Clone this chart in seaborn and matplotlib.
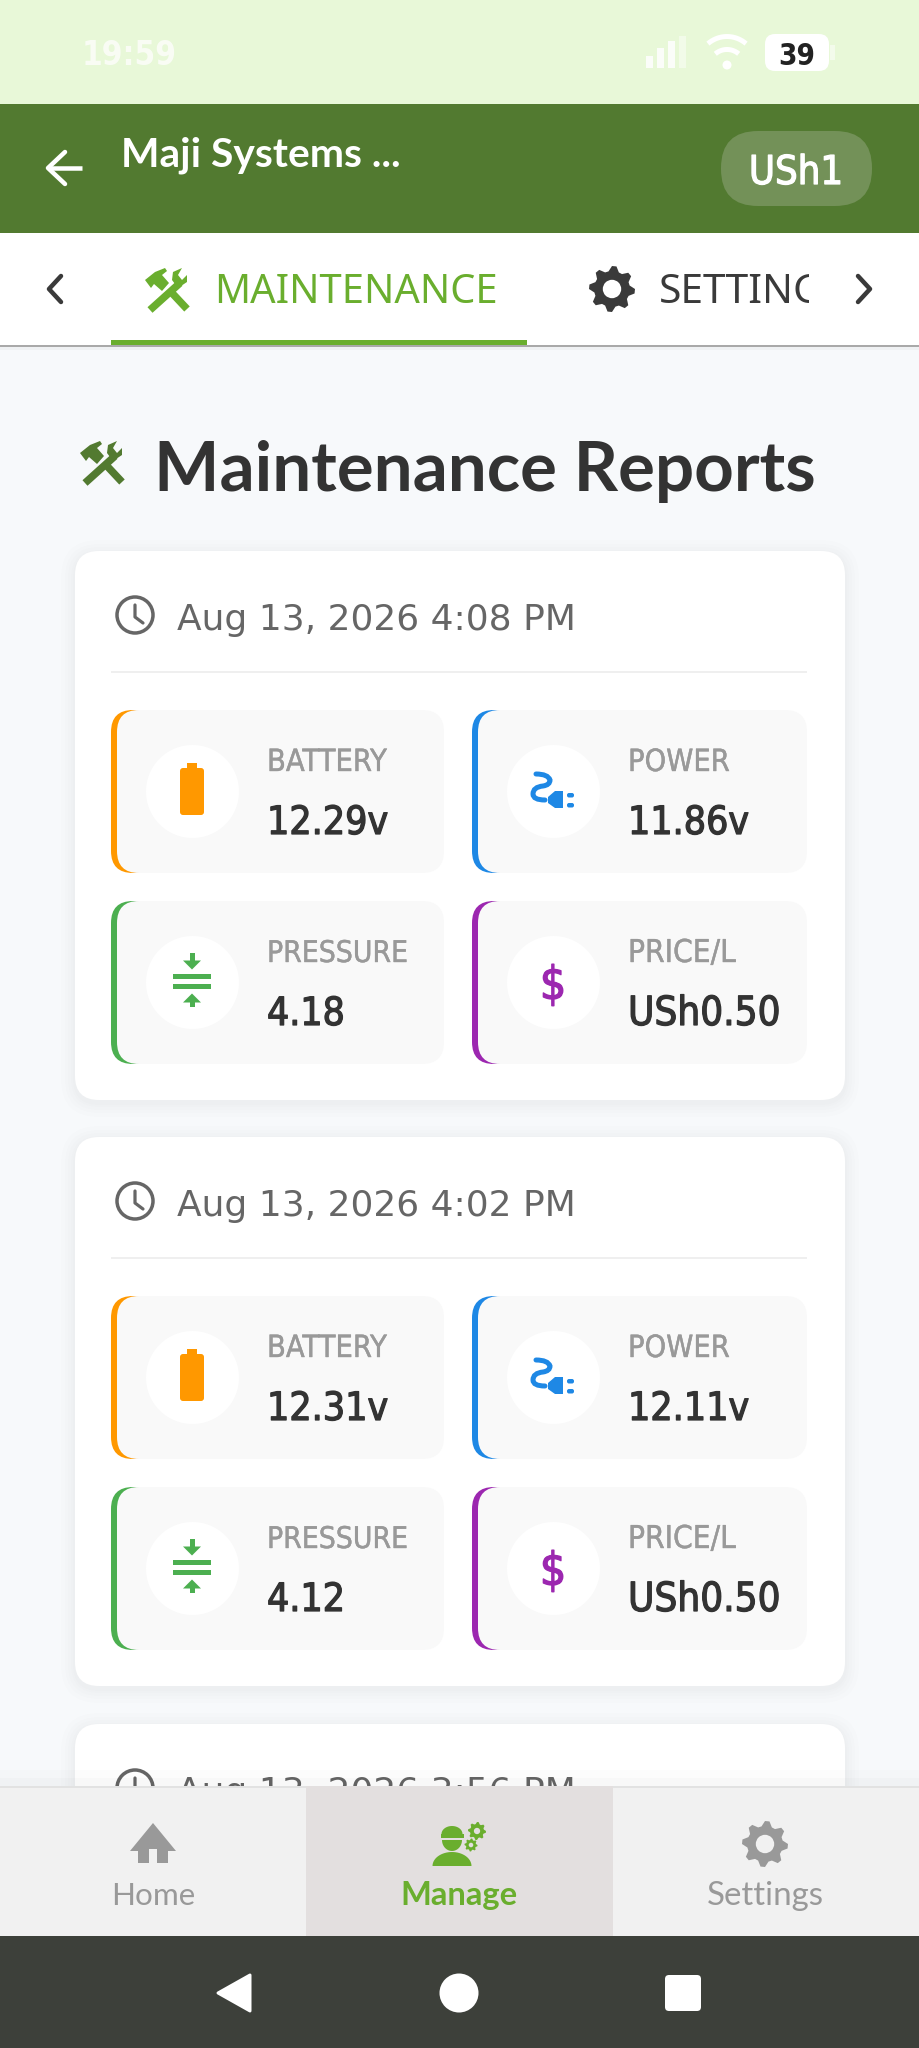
import itertools
import numpy as np
import pandas as pd
import matplotlib
matplotlib.use('Agg')
import matplotlib.pyplot as plt
import matplotlib.patheffects as pe
import seaborn as sns
from matplotlib.patches import Circle, FancyBboxPatch, PathPatch, Polygon, Rectangle
from matplotlib.path import Path

# report values
report_dates = ['Aug 13, 2026 4:08 PM', 'Aug 13, 2026 4:02 PM', 'Aug 13, 2026 3:56 PM']
tile_names = ['BATTERY', 'POWER', 'PRESSURE', 'PRICE/L']
battery_values = ['12.29v', '12.31v']
power_values = ['11.86v', '12.11v']
pressure_values = ['4.18', '4.12']
price_values = ['USh0.50', 'USh0.50']
tile_colors = sns.color_palette(['#FF9800', '#1E88E5', '#4CAF50', '#9C27B0'])
nav_labels = ['Home', 'Manage', 'Settings']

sns.set_theme(style='white')
plt.rcParams['font.family'] = ['DejaVu Sans']

W, H = 919, 2048
fig = plt.figure(figsize=(W / 100, H / 100), dpi=100, facecolor='#F7F9FB')
ax = fig.add_axes([0, 0, 1, 1])
ax.set_axis_off()
renderer = fig.canvas.get_renderer()
order = itertools.count(1)


def px(v):
    return v * 0.72


def rect(x0, y0, x1, y1, color, alpha=1):
    ax.add_patch(Rectangle((x0, y0), x1 - x0, y1 - y0, fc=color, lw=0, alpha=alpha, zorder=next(order)))


def rrect(x0, y0, x1, y1, r, color, alpha=1):
    ax.add_patch(FancyBboxPatch((x0 + r, y0 + r), x1 - x0 - 2 * r, y1 - y0 - 2 * r,
                                boxstyle=f'round,pad={r},rounding_size={r}',
                                fc=color, lw=0, alpha=alpha, zorder=next(order)))


def poly(points, color):
    ax.add_patch(Polygon(points, closed=True, fc=color, lw=0, zorder=next(order)))


def circle(x, y, r, color, lw=0, fill=True):
    ax.add_patch(Circle((x, y), r, fc=color if fill else 'none', ec=color, lw=px(lw), zorder=next(order)))


def half(x, y, rx, ry, color, up=True):
    a = np.linspace(0, np.pi, 30)
    poly(np.c_[x + rx * np.cos(a), y + (-1 if up else 1) * ry * np.sin(a)], color)


def stroke(xs, ys, color, w, cap='round', join='round'):
    ax.plot(xs, ys, color=color, lw=px(w), solid_capstyle=cap, solid_joinstyle=join, zorder=next(order))


def label(x, base, s, width, color, weight='normal', family='DejaVu Sans', size=20, ha='left', alpha=1, heavy=0,
          stretch='normal'):
    # fontsize is scaled until the text has the measured width
    t = ax.text(x, base, s, color=color, fontweight=weight, family=family, fontsize=size, ha=ha,
                va='baseline', alpha=alpha, fontstretch=stretch, zorder=next(order))
    if width:
        t.set_fontsize(size * width / t.get_window_extent(renderer).width)
    if heavy:
        t.set_path_effects([pe.withStroke(linewidth=heavy, foreground=color)])
    return t


def shadow(x0, y0, x1, y1, r):
    for g in [14, 10, 7, 4, 2]:
        rrect(x0 - g, y0 - g + 3, x1 + g, y1 + g + 3, r + g, '#000000', alpha=0.006)


def gear(x, y, r, color, hole_color, teeth=8, hole=0.40):
    ang = np.linspace(0, 2 * np.pi, teeth * 4, endpoint=False) - np.pi / teeth / 2
    rad = np.tile([1.0, 1.0, 0.78, 0.78], teeth)
    poly(np.c_[x + r * rad * np.sin(ang), y + r * rad * np.cos(ang)], color)
    circle(x, y, r * hole, hole_color)


def tools(x, y, s, color):
    # crossed hammer and wrench, s = icon height
    u = s / 43
    stroke([x - 18 * u, x + 12 * u], [y + 21 * u, y - 6 * u], color, 7.5 * u, cap='butt')
    stroke([x + 4 * u, x + 19 * u], [y + 4 * u, y + 20 * u], color, 7.5 * u, cap='butt')
    poly([(x - 23 * u, y - 9 * u), (x - 13 * u, y - 17 * u), (x - 3 * u, y - 21 * u), (x - 1 * u, y - 18 * u),
          (x - 6 * u, y - 14 * u), (x + 1 * u, y - 6 * u), (x - 6 * u, y + 2 * u), (x - 14 * u, y - 5 * u),
          (x - 17 * u, y - 1 * u)], color)
    poly([(x + 4 * u, y - 9 * u), (x + 5 * u, y - 17 * u), (x + 14 * u, y - 21 * u), (x + 10 * u, y - 14 * u),
          (x + 14 * u, y - 9 * u), (x + 19 * u, y - 14 * u), (x + 19 * u, y - 7 * u), (x + 10 * u, y - 1 * u)], color)


def chevron(x, y, d, color):
    stroke([x - d * 6, x + d * 6, x - d * 6], [y - 13, y, y + 13], color, 4.5)


def battery_icon(x, y, color):
    rrect(x - 12, y - 23, x + 12, y + 24, 3, color)
    rect(x - 5, y - 28, x + 5, y - 21, color)


def plug_icon(x, y, color):
    verts = [(x - 17, y - 17), (x - 5, y - 17), (x - 3, y - 11), (x - 3, y - 6), (x - 10, y - 5),
             (x - 20, y - 4), (x - 20, y + 3), (x - 20, y + 9), (x - 8, y + 9)]
    ax.add_patch(PathPatch(Path(verts, [Path.MOVETO] + [Path.CURVE3] * 8), fc='none', ec=color, lw=px(5),
                           capstyle='round', zorder=next(order)))
    poly([(x - 5, y + 6), (x + 2, y), (x + 10, y), (x + 10, y + 17), (x + 2, y + 17), (x - 5, y + 12)], color)
    rrect(x + 14, y + 2, x + 21, y + 6.5, 2, color)
    rrect(x + 14, y + 12, x + 21, y + 16.5, 2, color)


def pressure_icon(x, y, color):
    rect(x - 19, y - 8, x + 19, y - 3, color)
    rect(x - 19, y + 2, x + 19, y + 7, color)
    for d in (-1, 1):
        off = -0.5
        rect(x - 2.5, y + off + d * 27 - 2, x + 2.5, y + off + d * 16, color)
        poly([(x - 9, y + off + d * 21), (x + 9, y + off + d * 21), (x, y + off + d * 12)], color)


def dollar_icon(x, y, color):
    label(x, y + 17, '$', 0, color, size=33, ha='center', heavy=1.0, stretch='condensed')


def clock_icon(x, y, color):
    circle(x, y, 18, color, lw=3.5, fill=False)
    stroke([x, x, x + 8], [y - 10, y + 2, y + 8], color, 3.2)


# status bar and app header
rect(0, 0, W, 104, '#E8F8D8')
label(82, 65, '19:59', 95, '#FBFDF8', weight='bold', alpha=0.9, stretch='condensed')
for i, top in enumerate([56, 48, 41, 36]):
    rect(646 + i * 11, top, 653 + i * 11, 68, '#FFFFFF', alpha=0.85 if i < 3 else 0.45)
for r_, w_ in [(31, 5), (19, 5)]:
    a = np.linspace(np.radians(52), np.radians(128), 20)
    stroke(727 + r_ * np.cos(a), 70 - r_ * 1.08 * np.sin(a), '#FFFFFF', w_, cap='butt')
circle(727, 65, 4.5, '#FFFFFF')
rrect(765, 34, 829, 71, 10, '#FFFFFF')
rect(830, 45, 835, 60, '#FFFFFF', alpha=0.5)
label(797, 65, '39', 37, '#222222', weight='bold', ha='center', stretch='condensed')

rect(0, 104, W, 233, '#527A30')
stroke([49, 82], [168, 168], '#FFFFFF', 4.5, cap='butt')
stroke([65, 48, 65], [152, 168, 184], '#FFFFFF', 4.5)
label(121, 166, 'Maji Systems ...', 280, '#FFFFFF', weight='bold', family='Lato')
rrect(721, 131, 872, 206, 37, '#739158')
label(796, 184, 'USh1', 94, '#FFFFFF', ha='center', heavy=0.9, stretch='condensed')

# tab strip
rect(0, 233, W, 345, '#FFFFFF')
rect(0, 345, W, 347, '#A9A9A9')
rect(0, 347, W, 350, '#000000', alpha=0.03)
rect(111, 340, 527, 345, '#6AAE2E')
chevron(55, 289, -1, '#3A3A3A')
chevron(864, 289, 1, '#3A3A3A')
tools(168, 289, 43, '#6AAE2E')
tab = label(214, 303, 'MAINTENANCE', 284, '#6AAE2E', family='Noto Sans')
gear(612, 289, 23, '#3A3A3A', '#FFFFFF')
tab2 = label(659, 303, 'SETTINGS', 0, '#3A3A3A', family='Noto Sans', size=tab.get_fontsize() * 1.02)
tab2.set_clip_on(True)
tab2.set_clip_path(Rectangle((659, 233), 150, 112, transform=ax.transData))

# page title
tools(103, 462, 43, '#527A30')
label(154, 491, 'Maintenance Reports', 662, '#333333', weight='bold', family='Lato')

# report cards
card_tops = [551, 1137, 1724]
tile_values = [battery_values, power_values, pressure_values, price_values]
icons = [battery_icon, plug_icon, pressure_icon, dollar_icon]
for c, top in enumerate(card_tops):
    shadow(75, top, 845, top + 549, 24)
    rrect(75, top, 845, top + 549, 24, '#FFFFFF')
    clock_icon(135, top + 64, '#666666')
    label(177, top + 79, report_dates[c], 399, '#666666')
    if c == 2:
        continue
    rect(111, top + 120, 807, top + 122, '#EFEFEF')
    for k, name in enumerate(tile_names):
        col, row = k % 2, k // 2
        x0 = 111 + col * 361
        y0 = top + 159 + row * 191
        x1 = x0 + (333 if col == 0 else 335)
        y1 = y0 + 163
        rrect(x0, y0, x0 + 60, y1, 22, tile_colors[k])
        rrect(x0 + 6, y0, x1, y1, 22, '#F9F9F9')
        cx, cy = x0 + 81, y0 + 81
        # icon backing discs go through seaborn
        sns.scatterplot(data=pd.DataFrame({'x': [cx], 'y': [cy]}), x='x', y='y', s=px(93) ** 2, color='#FFFFFF',
                        linewidth=0, legend=False, ax=ax, zorder=next(order))
        icons[k](cx, cy, tile_colors[k])
        label(x0 + 156, y0 + 61, name, [120, 102, 141, 108][k], '#999999', heavy=0.3, stretch='condensed')
        label(x0 + 156, y0 + 124, tile_values[k][c], [121, 121, 78, 152][k], '#333333', heavy=0.9, stretch='condensed')

# bottom navigation
rect(0, 1770, W, 1786, '#000000', alpha=0.012)
rect(0, 1778, W, 1786, '#000000', alpha=0.015)
rect(0, 1786, W, 1936, '#F1F1F1')
rect(0, 1786, W, 1788, '#E2E2E2')
rect(306, 1786, 613, 1936, '#E3DFDF')
poly([(153, 1823), (176, 1851), (168, 1851), (168, 1863), (157, 1863), (157, 1849), (149, 1849), (149, 1863),
      (138, 1863), (138, 1851), (130, 1851)], '#999999')
gear(765, 1844, 23, '#999999', '#F1F1F1')
# worker with helmet and cogs
worker = '#6AAE2E'
half(452, 1866, 19.5, 14, worker)
half(452, 1840, 10, 11, worker, up=False)
half(452, 1834, 10.5, 8, worker)
rect(441, 1834, 464, 1838, worker)
gear(477, 1831, 9, worker, '#E3DFDF', hole=0.35)
gear(471, 1845, 6.5, worker, '#E3DFDF', hole=0.35)
label(153, 1905, nav_labels[0], 84, '#999999', ha='center', family='Lato')
label(459, 1905, nav_labels[1], 117, '#6AAE2E', weight='bold', ha='center', family='Lato')
label(765, 1905, nav_labels[2], 117, '#999999', ha='center', family='Lato')

# system navigation bar
rect(0, 1936, W, H, '#3D403A')
ax.add_patch(Polygon([(218, 1993), (250, 1975), (250, 2011)], closed=True, fc='#FFFFFF', ec='#FFFFFF', lw=px(3),
                     joinstyle='round', zorder=next(order)))
circle(459, 1993, 19.5, '#FFFFFF')
rrect(665, 1975, 701, 2011, 4, '#FFFFFF')

ax.set_xlim(0, W)
ax.set_ylim(H, 0)
fig.savefig('out.png', dpi=100, facecolor=fig.get_facecolor())
